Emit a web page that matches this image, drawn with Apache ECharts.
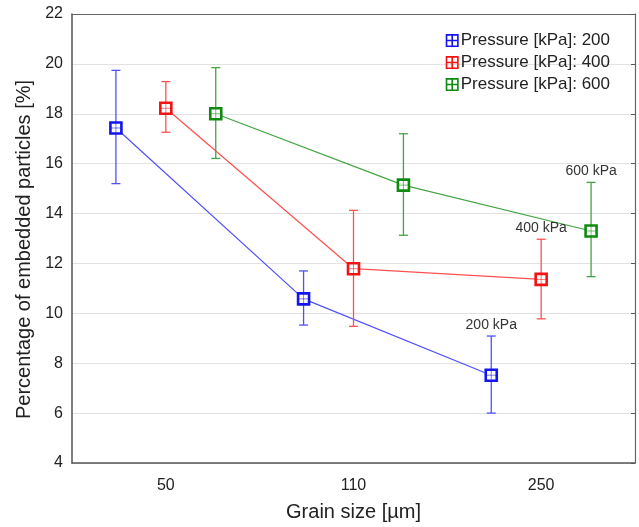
<!DOCTYPE html>
<html>
<head>
<meta charset="utf-8">
<script src="https://cdn.jsdelivr.net/npm/echarts@6/dist/echarts.min.js"></script>
<style>html,body{margin:0;padding:0;background:#fff}#c{width:639px;height:527px}</style>
</head>
<body>
<div id="c"></div>
<script>
const categories = ['50', '110', '250'];
const pressures = ['200', '400', '600'];
const endLabels = ['200 kPa', '400 kPa', '600 kPa'];
const means200 = [17.43, 10.58, 7.52];
const low200 = [15.2, 9.53, 6.0];
const high200 = [19.74, 11.70, 9.09];
const means400 = [18.22, 11.79, 11.36];
const low400 = [17.26, 9.48, 9.78];
const high400 = [19.29, 14.13, 12.97];
const means600 = [18.0, 15.14, 13.3];
const low600 = [16.21, 13.13, 11.47];
const high600 = [19.85, 17.2, 15.25];
const yTicks = [4, 6, 8, 10, 12, 14, 16, 18, 20, 22];

const means = [means200, means400, means600];
const lows = [low200, low400, low600];
const highs = [high200, high400, high600];
const groupOffset = [-0.266, 0, 0.266];
const markColors = ['#1414f0', '#f01414', '#108a10'];
const lineColors = ['#5050ff', '#ff5050', '#44a444'];
const FONT = '"Liberation Sans", Arial, sans-serif';
const iconPath = 'path://M0 0H12V1.5H0Z M0 10.5H12V12H0Z M0 0H1.5V12H0Z M10.5 0H12V12H10.5Z M5.25 0H6.75V12H5.25Z M0 5.25H12V6.75H0Z';

const chart = echarts.init(document.getElementById('c'), null, {renderer: 'canvas'});

const series = [];
pressures.forEach((p, s) => {
  const name = 'Pressure [kPa]: ' + p;
  series.push({
    name: name,
    type: 'line',
    xAxisIndex: 1,
    showSymbol: false,
    data: categories.map((c, i) => [i + groupOffset[s], means[s][i]]),
    lineStyle: {color: lineColors[s], width: 1.2},
    itemStyle: {color: markColors[s]},
    z: 2
  });
});
pressures.forEach((p, s) => {
  series.push({
    name: 'err' + p,
    type: 'custom',
    xAxisIndex: 1,
    z: 3,
    data: categories.map((c, i) => [i + groupOffset[s], means[s][i], lows[s][i], highs[s][i]]),
    renderItem: function (params, api) {
      const x = api.value(0);
      const m = api.coord([x, api.value(1)]);
      const lo = api.coord([x, api.value(2)]);
      const hi = api.coord([x, api.value(3)]);
      const cw = 4.5, h = 5.5;
      const ls = {stroke: lineColors[s], lineWidth: 1.3};
      const children = [
        {type: 'line', shape: {x1: hi[0], y1: hi[1], x2: lo[0], y2: lo[1]}, style: ls},
        {type: 'line', shape: {x1: hi[0] - cw, y1: hi[1], x2: hi[0] + cw, y2: hi[1]}, style: ls},
        {type: 'line', shape: {x1: lo[0] - cw, y1: lo[1], x2: lo[0] + cw, y2: lo[1]}, style: ls},
        {type: 'rect', shape: {x: m[0] - h, y: m[1] - h, width: 2 * h, height: 2 * h},
          style: {fill: '#fff', stroke: markColors[s], lineWidth: 2.6}},
        {type: 'line', shape: {x1: m[0], y1: m[1] - h, x2: m[0], y2: m[1] + h},
          style: {stroke: markColors[s], lineWidth: 0.8, opacity: 0.7}},
        {type: 'line', shape: {x1: m[0] - h, y1: m[1], x2: m[0] + h, y2: m[1]},
          style: {stroke: markColors[s], lineWidth: 0.8, opacity: 0.7}}
      ];
      if (params.dataIndex === categories.length - 1) {
        children.push({type: 'text', x: hi[0], y: hi[1] - 4,
          style: {text: endLabels[s], fill: '#333', font: '14px ' + FONT, align: 'center', verticalAlign: 'bottom'}});
      }
      return {type: 'group', children: children};
    }
  });
});

chart.setOption({
  animation: false,
  grid: {left: 72, top: 14, right: 4, bottom: 64},
  legend: {
    orient: 'vertical', right: 24, top: 27, itemWidth: 13, itemHeight: 13, itemGap: 5,
    icon: iconPath, selectedMode: false, align: 'left',
    data: pressures.map(p => 'Pressure [kPa]: ' + p),
    textStyle: {fontFamily: FONT, fontSize: 17, color: '#222', padding: [0, 0, 0, -3]}
  },
  xAxis: [
    {type: 'category', data: categories, boundaryGap: true, position: 'bottom',
      name: 'Grain size [µm]', nameLocation: 'middle', nameGap: 39,
      nameTextStyle: {fontFamily: FONT, fontSize: 20, color: '#222'},
      axisLine: {lineStyle: {color: '#555', width: 1.5}},
      axisTick: {alignWithLabel: true, inside: true, length: 4, lineStyle: {color: '#555'}},
      axisLabel: {fontFamily: FONT, fontSize: 16, color: '#222', margin: 15},
      splitLine: {show: false}},
    {type: 'value', min: -0.5, max: 2.5, show: false},
    {type: 'category', data: categories, boundaryGap: true, position: 'top',
      axisLine: {lineStyle: {color: '#666', width: 1.2}},
      axisTick: {alignWithLabel: true, inside: true, length: 4, lineStyle: {color: '#555'}},
      axisLabel: {show: false}, splitLine: {show: false}}
  ],
  yAxis: [
    {type: 'value', min: yTicks[0], max: yTicks[yTicks.length - 1], interval: 2, position: 'left',
      name: 'Percentage of embedded particles [%]', nameLocation: 'middle', nameGap: 38,
      nameTextStyle: {fontFamily: FONT, fontSize: 20, color: '#222', padding: [0, 22, 0, 0]},
      axisLine: {show: true, onZero: false, lineStyle: {color: '#555', width: 1.5}},
      axisTick: {show: false},
      axisLabel: {fontFamily: FONT, fontSize: 16, color: '#222', margin: 9},
      splitLine: {lineStyle: {color: '#e2e2e2', width: 1.2}}},
    {type: 'value', min: yTicks[0], max: yTicks[yTicks.length - 1], interval: 2, position: 'right',
      axisLine: {show: true, onZero: false, lineStyle: {color: '#666', width: 1.2}},
      axisTick: {show: true, inside: true, length: 4, lineStyle: {color: '#555'}},
      axisLabel: {show: false}, splitLine: {show: false}}
  ],
  series: series
});
</script>
</body>
</html>
